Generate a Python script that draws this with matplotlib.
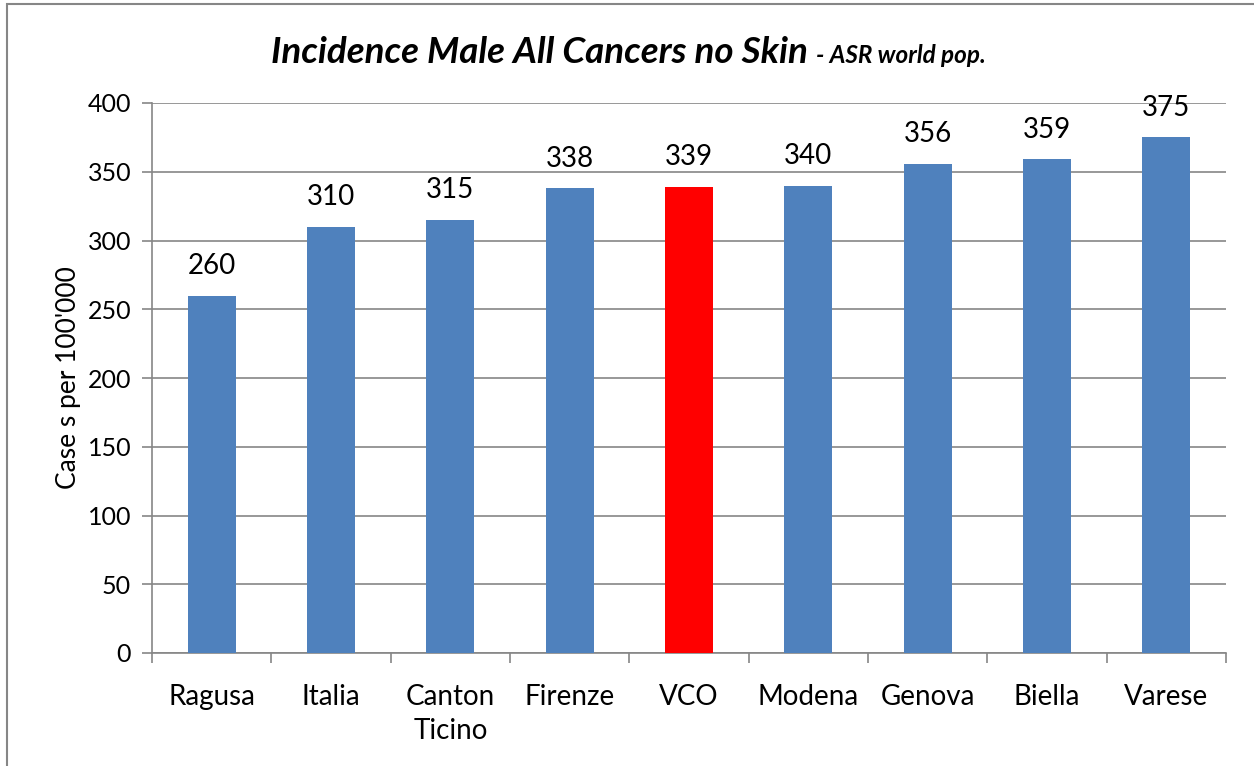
import matplotlib.pyplot as plt
from matplotlib.patches import Rectangle

plt.rcParams['font.family'] = ['Lato', 'DejaVu Sans']

regions = ['Ragusa', 'Italia', 'Canton\nTicino', 'Firenze', 'VCO', 'Modena', 'Genova', 'Biella', 'Varese']
values = [260, 310, 315, 338, 339, 340, 356, 359, 375]
highlight = 'VCO'

blue = '#4F81BD'
red = '#FF0000'
grey = '#868686'

fig = plt.figure(figsize=(12.54, 7.66), dpi=100)
ax = fig.add_axes([152/1254, 1 - 653/766, (1226 - 152)/1254, (653 - 103)/766])

colors = [red if r == highlight else blue for r in regions]
x = list(range(len(regions)))
bars = ax.bar(x, values, width=0.4, color=colors, zorder=3)

for b, v in zip(bars, values):
    ax.text(b.get_x() + b.get_width()/2, v + 12, str(v), ha='center', va='bottom',
            fontsize=20, zorder=4)

ax.set_xlim(-0.5, len(regions) - 0.5)
ax.set_ylim(0, 400)
ax.set_yticks(range(0, 401, 50))
ax.yaxis.grid(True, color=grey, linewidth=1.2, zorder=0)
ax.set_axisbelow(True)

ax.set_xticks(x)
ax.set_xticklabels(regions, fontsize=20, linespacing=1.4)
ax.set_xticks([i - 0.5 for i in range(len(regions) + 1)], minor=True)
ax.tick_params(axis='x', which='major', length=0, pad=22)
ax.tick_params(axis='x', which='minor', length=7, color=grey, width=1.2)
ax.tick_params(axis='y', length=7, color=grey, width=1.2, labelsize=18, pad=8)

for s in ['top', 'right']:
    ax.spines[s].set_visible(False)
for s in ['left', 'bottom']:
    ax.spines[s].set_color(grey)
    ax.spines[s].set_linewidth(1.2)

ax.set_ylabel("Case s per 100'000", fontsize=19, labelpad=5)

fig.text(808/1254, 1 - 63/766, 'Incidence Male All Cancers no Skin', ha='right', va='baseline',
         fontsize=26.5, fontweight='bold', style='italic')
fig.text(816/1254, 1 - 63/766, '- ASR world pop.', ha='left', va='baseline',
         fontsize=17.5, fontweight='bold', style='italic')

fig.patches.append(Rectangle((7/1254, -0.1), 1.2, 1 - 4/766 + 0.1, transform=fig.transFigure,
                             fill=False, edgecolor=grey, linewidth=1.5))

fig.savefig('out.png', dpi=100)
